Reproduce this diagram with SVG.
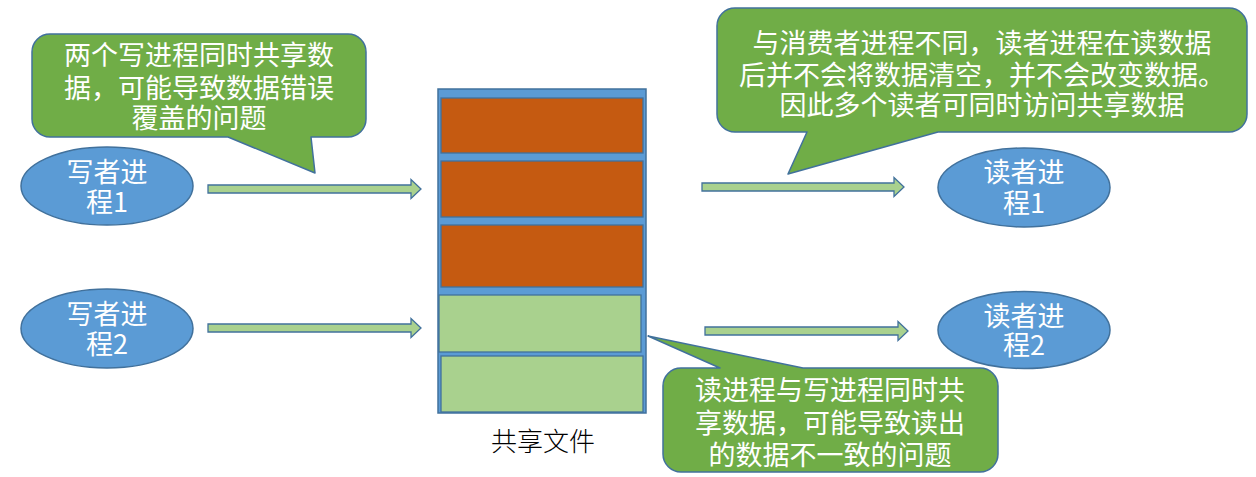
<svg xmlns="http://www.w3.org/2000/svg" width="1256" height="477" viewBox="0 0 1256 477">
<defs>
<style>
.callout{fill:#70AD47;stroke:#41719C;stroke-width:1.5;stroke-linejoin:round}
.node{fill:#5B9BD5;stroke:#41719C;stroke-width:1.5}
.arrow{fill:#A9D18E;stroke:#41719C;stroke-width:1.3}
.wt{fill:#FFFFFF;font-family:"Noto Sans CJK SC","Microsoft YaHei",sans-serif;font-size:27px;text-anchor:middle}
.bt{fill:#000000;font-family:"Noto Sans CJK SC",sans-serif;font-size:26px;text-anchor:middle;font-weight:300}
.blk{stroke:#41719C;stroke-width:1.3}
.org{fill:#C55A11}
.lg{fill:#A9D18E}
</style>
</defs>
<rect width="1256" height="477" fill="#FFFFFF"/>

<g id="connectors">
<path class="arrow" d="M208,185 H411 V179.5 L421,189 L411,198.5 V193 H208 Z"/>
<path class="arrow" d="M208,324 H411 V318.5 L421,328 L411,337.5 V332 H208 Z"/>
<path class="arrow" d="M702,183 H894 V177.5 L904,187 L894,196.5 V191 H702 Z"/>
<path class="arrow" d="M705,327 H898 V321.5 L908,331 L898,340.5 V335 H705 Z"/>
</g>

<g id="callout-writers">
<path class="callout" d="M50,34 H348 A18,18 0 0 1 366,52 V119 A18,18 0 0 1 348,137 H311 L315,173 L228,137 H50 A18,18 0 0 1 32,119 V52 A18,18 0 0 1 50,34 Z"/>
<text class="wt"><tspan x="199" y="65">两个写进程同时共享数</tspan><tspan x="199" y="98">据，可能导致数据错误</tspan><tspan x="199" y="128">覆盖的问题</tspan></text>
</g>

<g id="callout-readers">
<path class="callout" d="M735,8 H1229 A18,18 0 0 1 1247,26 V114 A18,18 0 0 1 1229,132 H938 L788,174 L807,132 H735 A18,18 0 0 1 717,114 V26 A18,18 0 0 1 735,8 Z"/>
<text class="wt"><tspan x="982" y="53">与消费者进程不同，读者进程在读数据</tspan><tspan x="982" y="85">后并不会将数据清空，并不会改变数据。</tspan><tspan x="982" y="115">因此多个读者可同时访问共享数据</tspan></text>
</g>

<g id="callout-readwrite">
<path class="callout" d="M681,368 H720 L648,336 L803,368 H980 A18,18 0 0 1 998,386 V454 A18,18 0 0 1 980,472 H681 A18,18 0 0 1 663,454 V386 A18,18 0 0 1 681,368 Z"/>
<text class="wt"><tspan x="830" y="400">读进程与写进程同时共</tspan><tspan x="830" y="433">享数据，可能导致读出</tspan><tspan x="830" y="465">的数据不一致的问题</tspan></text>
</g>

<g id="writer1">
<ellipse class="node" cx="107" cy="186" rx="86" ry="39"/>
<text class="wt"><tspan x="107" y="182">写者进</tspan><tspan x="107" y="212">程1</tspan></text>
</g>

<g id="writer2">
<ellipse class="node" cx="107" cy="328.5" rx="86" ry="39.5"/>
<text class="wt"><tspan x="107" y="324">写者进</tspan><tspan x="107" y="354">程2</tspan></text>
</g>

<g id="reader1">
<ellipse class="node" cx="1024" cy="187.5" rx="86" ry="39.5"/>
<text class="wt"><tspan x="1024" y="182">读者进</tspan><tspan x="1024" y="213">程1</tspan></text>
</g>

<g id="reader2">
<ellipse class="node" cx="1024" cy="330" rx="86" ry="38.5"/>
<text class="wt"><tspan x="1024" y="326">读者进</tspan><tspan x="1024" y="355">程2</tspan></text>
</g>

<g id="shared-file">
<rect x="438" y="89" width="208" height="324" fill="#5B9BD5" stroke="#41719C" stroke-width="1.5"/>
<rect class="blk org" x="441" y="98" width="202" height="55"/>
<rect class="blk org" x="441" y="161" width="202" height="56"/>
<rect class="blk org" x="441" y="225" width="202" height="62"/>
<rect class="blk lg" x="439" y="295" width="202" height="57"/>
<rect class="blk lg" x="441" y="356" width="202" height="56"/>
<text class="bt" x="543" y="451">共享文件</text>
</g>
</svg>
